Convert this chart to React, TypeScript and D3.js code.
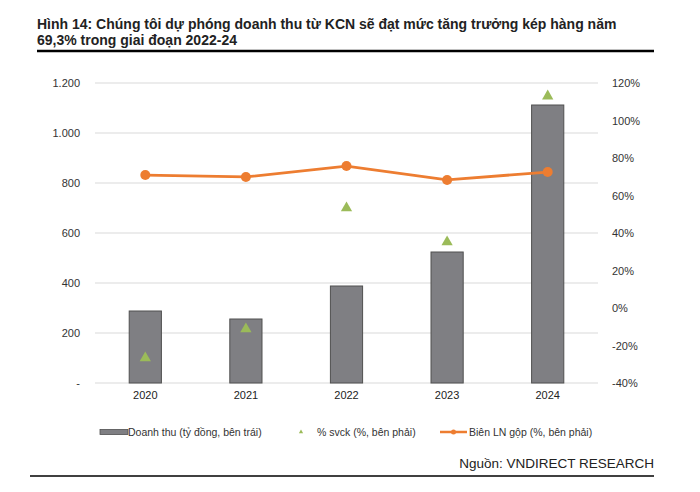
import { useEffect, useRef } from "react";
import * as d3 from "d3";

const years = ["2020", "2021", "2022", "2023", "2024"];
const revenue = [288, 256, 388, 524, 1112];
const growth = [-26.7, -11.2, 53.3, 35.2, 113];
const grossMargin = [70.9, 69.9, 75.7, 68.3, 72.5];
const leftTicks = [0, 200, 400, 600, 800, 1000, 1200];
const rightTicks = [-40, -20, 0, 20, 40, 60, 80, 100, 120];

const FONT = "'Liberation Sans', Arial, sans-serif";

const Chart = () => {
  const ref = useRef<SVGSVGElement | null>(null);

  useEffect(() => {
    if (!ref.current) return;
    const width = 700;
    const height = 492;
    const margin = { top: 83, right: 102, bottom: 109, left: 95 };

    const svg = d3.select(ref.current);
    svg.selectAll("*").remove();
    svg.attr("width", width).attr("height", height);

    svg.append("rect").attr("width", width).attr("height", height).attr("fill", "white");

    // tiêu đề
    const title = svg
      .append("text")
      .attr("font-family", FONT)
      .attr("font-size", 14)
      .attr("font-weight", 700)
      .attr("fill", "#222");
    title.append("tspan").attr("x", 37).attr("y", 29)
      .text("Hình 14: Chúng tôi dự phóng doanh thu từ KCN sẽ đạt mức tăng trưởng kép hàng năm");
    title.append("tspan").attr("x", 37).attr("y", 45).text("69,3% trong giai đoạn 2022-24");

    svg.append("line").attr("x1", 37).attr("x2", 654).attr("y1", 51).attr("y2", 51)
      .attr("stroke", "#000").attr("stroke-width", 2.5);

    const x = d3
      .scaleBand()
      .domain(years)
      .range([margin.left, width - margin.right])
      .paddingInner(0.68)
      .paddingOuter(0.34);

    const y = d3
      .scaleLinear()
      .domain([0, 1200])
      .range([height - margin.bottom, margin.top]);

    const y2 = d3
      .scaleLinear()
      .domain([-40, 120])
      .range([height - margin.bottom, margin.top]);

    // lưới
    svg
      .append("g")
      .selectAll("line")
      .data(leftTicks)
      .join("line")
      .attr("x1", margin.left)
      .attr("x2", width - margin.right)
      .attr("y1", (d) => y(d))
      .attr("y2", (d) => y(d))
      .attr("stroke", "#d9d9d9")
      .attr("stroke-width", 1.2);

    // trục trái
    const yAxis = svg
      .append("g")
      .attr("transform", `translate(${margin.left - 12},0)`)
      .call(
        d3.axisLeft(y).tickValues(leftTicks).tickSize(0)
          .tickFormat((d) => (d === 0 ? "-" : d3.format(",")(d as number).replace(",", ".")))
      );
    yAxis.select(".domain").remove();
    yAxis.selectAll("text").attr("font-family", FONT).attr("font-size", 11).attr("fill", "#333");

    // trục phải
    const y2Axis = svg
      .append("g")
      .attr("transform", `translate(${width - margin.right + 11},0)`)
      .call(d3.axisRight(y2).tickValues(rightTicks).tickSize(0).tickFormat((d) => `${d}%`));
    y2Axis.select(".domain").remove();
    y2Axis.selectAll("text").attr("font-family", FONT).attr("font-size", 11).attr("fill", "#333");

    // trục x
    const xAxis = svg
      .append("g")
      .attr("transform", `translate(0,${height - margin.bottom + 5})`)
      .call(d3.axisBottom(x).tickSize(0));
    xAxis.select(".domain").remove();
    xAxis.selectAll("text").attr("font-family", FONT).attr("font-size", 11).attr("fill", "#222");

    // cột
    svg
      .selectAll(".bar")
      .data(revenue)
      .join("rect")
      .attr("class", "bar")
      .attr("x", (_, i) => x(years[i])!)
      .attr("y", (d) => y(d))
      .attr("width", x.bandwidth())
      .attr("height", (d) => y(0) - y(d))
      .attr("fill", "#7f7f83")
      .attr("stroke", "#505050")
      .attr("stroke-width", 1);

    // đường biên LN
    const line = d3
      .line<number>()
      .x((_, i) => x(years[i])! + x.bandwidth() / 2)
      .y((d) => y2(d));
    svg.append("path").datum(grossMargin).attr("d", line).attr("fill", "none")
      .attr("stroke", "#ed7d31").attr("stroke-width", 2.8);
    svg
      .selectAll(".dot")
      .data(grossMargin)
      .join("circle")
      .attr("class", "dot")
      .attr("cx", (_, i) => x(years[i])! + x.bandwidth() / 2)
      .attr("cy", (d) => y2(d))
      .attr("r", 5)
      .attr("fill", "#ed7d31");

    // tam giác % svck
    const tri = d3.symbol().type(d3.symbolTriangle).size(55);
    svg
      .selectAll(".tri")
      .data(growth)
      .join("path")
      .attr("class", "tri")
      .attr("d", tri)
      .attr("transform", (d, i) => `translate(${x(years[i])! + x.bandwidth() / 2},${y2(d)})`)
      .attr("fill", "#9bbb59");

    // chú giải
    const ly = 432;
    const lg = svg.append("g").attr("font-family", FONT).attr("font-size", 10.5).attr("fill", "#333");
    lg.append("rect").attr("x", 100).attr("y", ly - 2.5).attr("width", 28).attr("height", 5)
      .attr("fill", "#7f7f83").attr("stroke", "#505050").attr("stroke-width", 0.8);
    lg.append("text").attr("x", 128).attr("y", ly + 4).text("Doanh thu (tỷ đồng, bên trái)");
    lg.append("path").attr("d", d3.symbol().type(d3.symbolTriangle).size(8)).attr("transform", `translate(301,${ly})`)
      .attr("fill", "#9bbb59");
    lg.append("text").attr("x", 317).attr("y", ly + 4).text("% svck (%, bên phải)");
    lg.append("line").attr("x1", 440).attr("x2", 467).attr("y1", ly).attr("y2", ly)
      .attr("stroke", "#ed7d31").attr("stroke-width", 2.5);
    lg.append("circle").attr("cx", 453.5).attr("cy", ly).attr("r", 2.5).attr("fill", "#ed7d31");
    lg.append("text").attr("x", 469).attr("y", ly + 4).text("Biên LN gộp (%, bên phải)");

    // nguồn
    svg.append("text").attr("x", 654).attr("y", 468).attr("text-anchor", "end")
      .attr("font-family", FONT).attr("font-size", 13.5).attr("fill", "#222")
      .text("Nguồn: VNDIRECT RESEARCH");
    svg.append("line").attr("x1", 30).attr("x2", 654).attr("y1", 476).attr("y2", 476)
      .attr("stroke", "#000").attr("stroke-width", 1.5);
  }, []);

  return <svg ref={ref}></svg>;
};

export default function App() {
  return (
    <div style={{ position: "absolute", left: 0, top: 0 }}>
      <Chart />
    </div>
  );
}
